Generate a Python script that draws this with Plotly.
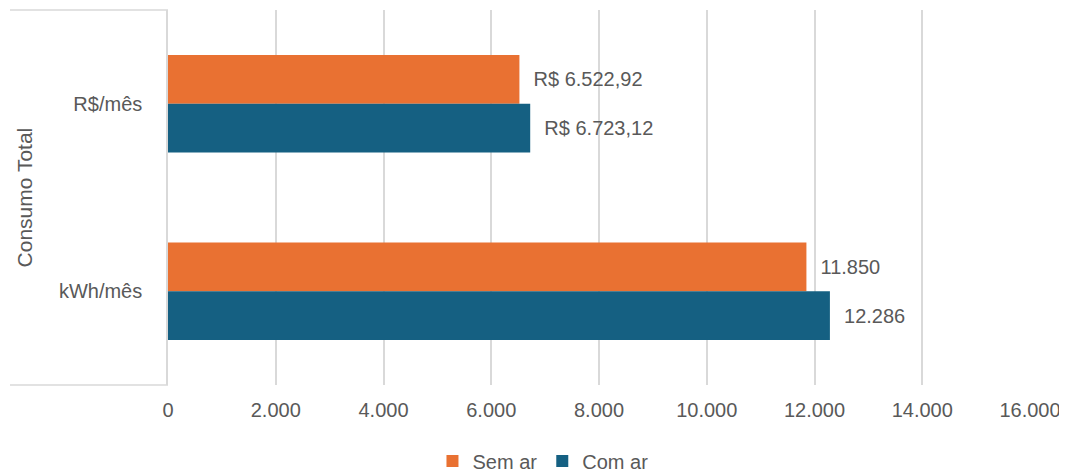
import plotly.graph_objects as go

categorias = ["R$/mês", "kWh/mês"]
sem_ar = [6522.92, 11850]
com_ar = [6723.12, 12286]
rotulos_sem_ar = ["R$ 6.522,92", "11.850"]
rotulos_com_ar = ["R$ 6.723,12", "12.286"]
ticks_x = [0, 2000, 4000, 6000, 8000, 10000, 12000, 14000, 16000]

LARANJA = "#E97132"
AZUL = "#156082"
CINZA = "#595959"
GRADE = "#D9D9D9"
FONTE = "Liberation Sans"

fig = go.Figure()
fig.add_trace(go.Bar(
    name="Sem ar", y=categorias, x=sem_ar, orientation="h",
    marker=dict(color=LARANJA, line=dict(width=0)),
    text=["  " + t for t in rotulos_sem_ar], textposition="outside",
    textfont=dict(color=CINZA, size=20, family=FONTE), cliponaxis=False,
))
fig.add_trace(go.Bar(
    name="Com ar", y=categorias, x=com_ar, orientation="h",
    marker=dict(color=AZUL, line=dict(width=0)),
    text=["  " + t for t in rotulos_com_ar], textposition="outside",
    textfont=dict(color=CINZA, size=20, family=FONTE), cliponaxis=False,
))

# a página desenha o gráfico com 8px de margem do body
fig.update_layout(
    width=1059, height=465,
    margin=dict(l=160, r=37, t=2, b=88),
    paper_bgcolor="white", plot_bgcolor="white",
    barmode="group", bargap=0.48, bargroupgap=0,
    separators=",.",
    font=dict(family=FONTE, size=20, color=CINZA),
    xaxis=dict(
        range=[0, 16000], tickvals=ticks_x, tickformat=",d",
        showgrid=True, gridcolor=GRADE, gridwidth=1.5,
        zeroline=False, showline=False, ticks="",
        ticklabelstandoff=11, tickfont=dict(size=20, color=CINZA),
    ),
    yaxis=dict(
        autorange="reversed", showgrid=False, zeroline=False,
        showline=True, linecolor=GRADE, linewidth=1.5, ticks="",
        ticklabelstandoff=20, tickfont=dict(size=20, color=CINZA),
    ),
    legend=dict(
        orientation="h", x=0.435, xanchor="center",
        yref="container", y=0.026, yanchor="middle",
        traceorder="normal", font=dict(size=20, color=CINZA),
        itemwidth=30,
    ),
    showlegend=True,
)

# linhas da área dos rótulos de categoria
for yv in (0, 1):
    fig.add_shape(type="line", xref="paper", yref="paper",
                  x0=-0.1833, x1=0, y0=yv, y1=yv,
                  line=dict(color=GRADE, width=1.5))

fig.add_annotation(
    text="Consumo Total", xref="paper", yref="paper",
    x=-0.166, y=0.5, xanchor="center", yanchor="middle",
    textangle=-90, showarrow=False,
    font=dict(size=21, color=CINZA),
)

fig.write_html("out.html")
